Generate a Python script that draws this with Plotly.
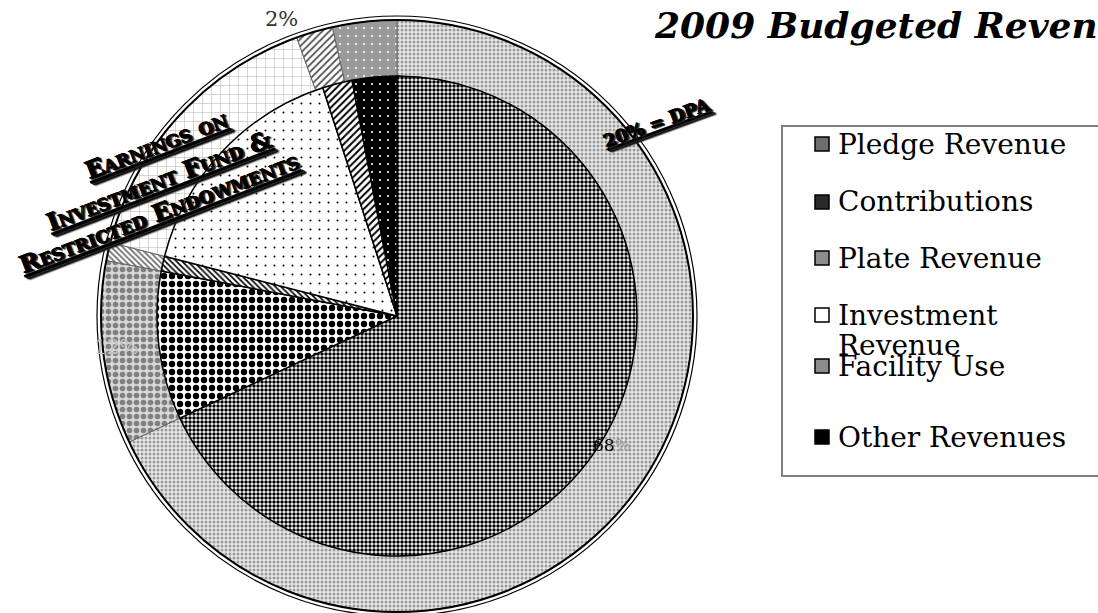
import plotly.graph_objects as go

# ---------------- data ----------------
categories = ["Pledge Revenue", "Contributions", "Plate Revenue",
              "Investment Revenue", "Facility Use", "Other Revenues"]
legend_lines = [["Pledge Revenue"], ["Contributions"], ["Plate Revenue"],
                ["Investment", "Revenue"], ["Facility Use"], ["Other Revenues"]]
inner_values = [68, 10, 1, 16, 2, 3]          # inner pie (%)
outer_values = [68, 10, 1, 15.5, 2, 3.5]      # outer ring (%)
title_text = "2009 Budgeted Revenues"
pct_labels = ["2%", "68%", "12%"]
dpa_label = "20% = DPA"
earnings_lines = ["Earnings on", "Investment Fund &", "Restricted Endowments"]

# ---------------- layout helpers ----------------
W, H = 1098, 613
FONT = "DejaVu Serif"


def px(x):
    return x / W


def py(y):
    return 1 - y / H


def domain(cx, cy, r):
    return dict(x=[px(cx - r), px(cx + r)], y=[max(0, py(cy + r)), min(1, py(cy - r))])


CX, CY = 397, 316
R_OUT, R_IN = 296, 240

fig = go.Figure()

# outer ring
fig.add_trace(go.Pie(
    labels=categories, values=outer_values, sort=False,
    direction="clockwise", rotation=0, hole=R_IN / R_OUT,
    domain=domain(CX, CY, R_OUT), textinfo="none", showlegend=False,
    hoverinfo="label+value",
    marker=dict(
        colors=["#d0d0d0", "#b0b0b0", "#cccccc", "#f2f2f2", "#cccccc", "#999999"],
        line=dict(color="#666666", width=1),
        pattern=dict(
            shape=[".", ".", "\\", "+", "/", "."],
            fgcolor=["#9a9a9a", "#808080", "#666666", "#b4b4b4", "#555555", "#ffffff"],
            bgcolor=["#e8e8e8", "#d8d8d8", "#ffffff", "#ffffff", "#ffffff", "#9a9a9a"],
            size=[4, 7, 4, 9, 5, 8],
            solidity=[0.45, 0.5, 0.4, 0.12, 0.35, 0.06],
            fillmode="replace",
        ),
    ),
))

# inner pie
fig.add_trace(go.Pie(
    labels=categories, values=inner_values, sort=False,
    direction="clockwise", rotation=0,
    domain=domain(CX, CY, R_IN), textinfo="none", showlegend=False,
    hoverinfo="label+value",
    marker=dict(
        colors=["#777777", "#444444", "#999999", "#ffffff", "#999999", "#000000"],
        line=dict(color="#000000", width=1.5),
        pattern=dict(
            shape=[".", ".", "\\", ".", "/", "."],
            fgcolor=["#000000", "#000000", "#000000", "#000000", "#000000", "#ffffff"],
            bgcolor=["#ffffff", "#ffffff", "#ffffff", "#ffffff", "#ffffff", "#000000"],
            size=[4, 8, 4, 9, 5, 8],
            solidity=[0.6, 0.5, 0.4, 0.04, 0.4, 0.06],
            fillmode="replace",
        ),
    ),
))

shapes = []
# double rim around the outer ring
for r, w in [(R_OUT, 2), (R_OUT + 4, 1.2)]:
    shapes.append(dict(type="circle", xref="paper", yref="paper",
                       x0=px(CX - r), x1=px(CX + r), y0=py(CY + r), y1=py(CY - r),
                       line=dict(color="#000000", width=w)))

# legend box
shapes.append(dict(type="rect", xref="paper", yref="paper",
                   x0=px(782), x1=px(1115), y0=py(476), y1=py(126),
                   line=dict(color="#808080", width=2), fillcolor="rgba(0,0,0,0)"))

annotations = []
entry_y = [144, 202, 258, 315, 366, 437]
swatch_fill = ["#6e6e6e", "#2a2a2a", "#8c8c8c", "#ffffff", "#8c8c8c", "#000000"]
for i, lines in enumerate(legend_lines):
    yc = entry_y[i]
    shapes.append(dict(type="rect", xref="paper", yref="paper",
                       x0=px(815), x1=px(829), y0=py(yc + 7), y1=py(yc - 7),
                       line=dict(color="#000000", width=1.5), fillcolor=swatch_fill[i]))
    for j, t in enumerate(lines):
        annotations.append(dict(text=t, xref="paper", yref="paper",
                                x=px(836), y=py(yc + 30 * j), xanchor="left", yanchor="middle",
                                showarrow=False,
                                font=dict(family=FONT, size=28, color="#000000")))

# title (runs off the right edge as in the reference)
annotations.append(dict(text="<b><i>" + title_text + "</i></b>", xref="paper", yref="paper",
                        x=px(652), y=py(25), xanchor="left", yanchor="middle",
                        showarrow=False,
                        font=dict(family=FONT, size=36, color="#000000")))

# percentage labels
annotations.append(dict(text=pct_labels[0], xref="paper", yref="paper",
                        x=px(281), y=py(19), xanchor="center", yanchor="middle",
                        showarrow=False,
                        font=dict(family=FONT, size=21, color="#333333")))
annotations.append(dict(text="68<span style='color:#9a9a9a'>%</span>", xref="paper", yref="paper",
                        x=px(612), y=py(445), xanchor="center", yanchor="middle",
                        showarrow=False,
                        font=dict(family=FONT, size=17, color="#000000")))
annotations.append(dict(text=pct_labels[2], xref="paper", yref="paper",
                        x=px(116), y=py(347), xanchor="center", yanchor="middle",
                        showarrow=False,
                        font=dict(family=FONT, size=20, color="#c4c4c4")))

# rotated call-outs
SHADOW = "1px 1px 0px #000000, 2px 2px 1px #333333"
annotations.append(dict(text="<b>" + dpa_label + "</b>", xref="paper", yref="paper",
                        x=px(656), y=py(122), xanchor="center", yanchor="middle",
                        textangle=-20, showarrow=False,
                        font=dict(family=FONT, size=18, color="#000000",
                                  variant="small-caps", lineposition="under",
                                  shadow=SHADOW)))
earn_pos = [(156, 145), (158, 180), (158, 212)]
for t, (x, y) in zip(earnings_lines, earn_pos):
    annotations.append(dict(text="<b>" + t + "</b>", xref="paper", yref="paper",
                            x=px(x), y=py(y), xanchor="center", yanchor="middle",
                            textangle=-21, showarrow=False,
                            font=dict(family=FONT, size=24, color="#000000",
                                      variant="small-caps", lineposition="under",
                                      shadow=SHADOW)))

fig.update_layout(
    width=W, height=H,
    margin=dict(l=0, r=0, t=0, b=0),
    paper_bgcolor="#ffffff", plot_bgcolor="#ffffff",
    showlegend=False,
    shapes=shapes,
    annotations=annotations,
)

fig.write_html("out.html",
               config={"displayModeBar": False},
               post_script="document.body.style.margin='0';document.body.style.overflow='hidden';")
